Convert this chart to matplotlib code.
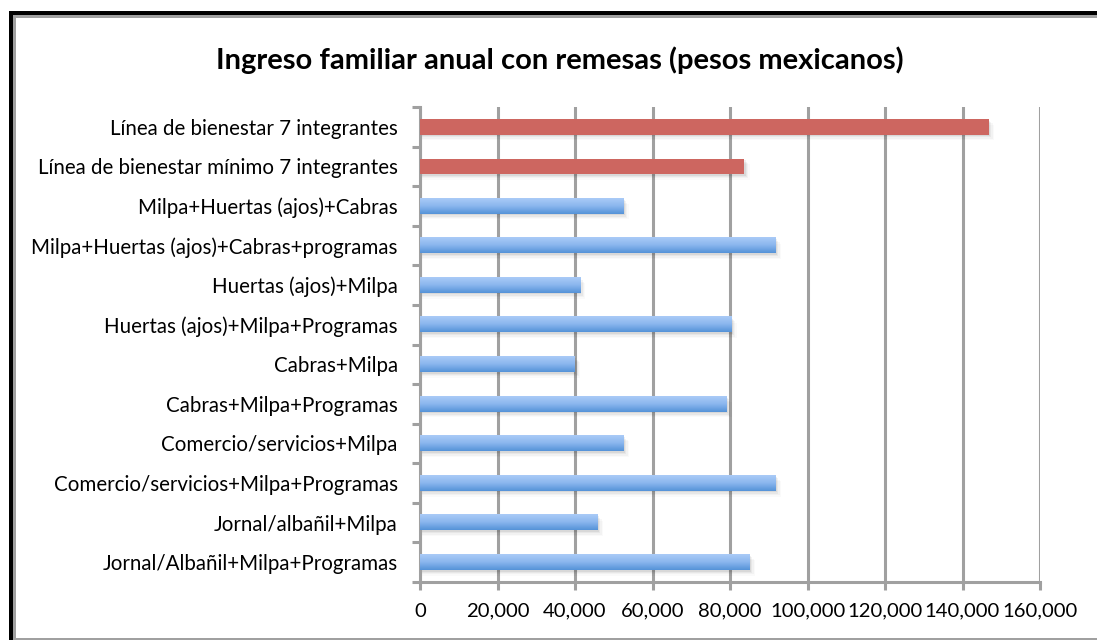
import matplotlib
matplotlib.use("Agg")
import matplotlib.pyplot as plt
import numpy as np
from matplotlib.patches import Rectangle
from matplotlib.colors import LinearSegmentedColormap

categories = [
    "Línea de bienestar 7 integrantes",
    "Línea de bienestar mínimo 7 integrantes",
    "Milpa+Huertas (ajos)+Cabras",
    "Milpa+Huertas (ajos)+Cabras+programas",
    "Huertas (ajos)+Milpa",
    "Huertas (ajos)+Milpa+Programas",
    "Cabras+Milpa",
    "Cabras+Milpa+Programas",
    "Comercio/servicios+Milpa",
    "Comercio/servicios+Milpa+Programas",
    "Jornal/albañil+Milpa",
    "Jornal/Albañil+Milpa+Programas",
]
values = [146800, 83700, 52500, 91800, 41300, 80400, 40000, 79100, 52600, 91800, 45900, 85100]
is_reference_line = [True, True, False, False, False, False, False, False, False, False, False, False]
xticks = [0, 20000, 40000, 60000, 80000, 100000, 120000, 140000, 160000]
title = "Ingreso familiar anual con remesas (pesos mexicanos)"

plt.rcParams['font.family'] = ['Lato', 'DejaVu Sans']

W, H = 1097, 640
fig = plt.figure(figsize=(W / 100, H / 100), dpi=100)
fig.patch.set_facecolor("white")

# outer frame (black + gray inner line)
fig.patches.append(Rectangle((9 / W, 0), 4 / W, 1 - 11 / H, transform=fig.transFigure,
                             facecolor="black", edgecolor="none", zorder=5))
fig.patches.append(Rectangle((9 / W, 1 - 15 / H), 1, 4 / H, transform=fig.transFigure,
                             facecolor="black", edgecolor="none", zorder=5))
fig.patches.append(Rectangle((13 / W, 0), 2.5 / W, 1 - 15 / H, transform=fig.transFigure,
                             facecolor="#a0a0a0", edgecolor="none", zorder=5))
fig.patches.append(Rectangle((13 / W, 1 - 17.5 / H), 1, 2.5 / H, transform=fig.transFigure,
                             facecolor="#a0a0a0", edgecolor="none", zorder=5))
fig.patches.append(Rectangle((13 / W, 1 - 640 / H), 1, 2.5 / H, transform=fig.transFigure,
                             facecolor="#a0a0a0", edgecolor="none", zorder=5))

ax = fig.add_axes([420 / W, 1 - 582 / H, 620 / W, 475 / H])
n = len(categories)
ax.set_xlim(0, 160000)
ax.set_ylim(n - 0.5, -0.5)

ax.set_xticks(xticks)
ax.set_xticklabels([f"{v:,}" for v in xticks])
ax.set_yticks(np.arange(n))
ax.set_yticklabels(categories)
ax.set_yticks(np.arange(n + 1) - 0.5, minor=True)

gray = "#a0a0a0"
ax.grid(axis="x", color=gray, linewidth=2.2, zorder=0)
ax.set_axisbelow(True)
for s in ["top", "right"]:
    ax.spines[s].set_visible(False)
for s in ["left", "bottom"]:
    ax.spines[s].set_color(gray)
    ax.spines[s].set_linewidth(2.2)

ax.tick_params(axis="y", which="major", length=0, pad=16, labelsize=14.8, colors="black")
ax.tick_params(axis="y", which="minor", length=6, width=2.2, color=gray)
ax.tick_params(axis="x", length=6, width=2.2, color=gray, pad=9, labelsize=14.6, labelcolor="black")

blue_cmap = LinearSegmentedColormap.from_list("b", ["#aacbf7", "#8ab6ee", "#5593d8"])
bar_h = 0.39
grad = np.linspace(0, 1, 64).reshape(-1, 1)
for i, (v, ref) in enumerate(zip(values, is_reference_line)):
    # soft shadow
    for k, a in enumerate([0.06, 0.045, 0.03, 0.02]):
        off = 0.04 + 0.035 * k
        ax.add_patch(Rectangle((0, i - bar_h / 2 + off), v + 300 + 350 * k, bar_h,
                               facecolor="black", alpha=a, edgecolor="none", zorder=2))
    if ref:
        ax.barh(i, v, height=bar_h, color="#cd6660", zorder=3)
    else:
        ax.imshow(grad, aspect="auto", cmap=blue_cmap,
                  extent=(0, v, i + bar_h / 2, i - bar_h / 2), zorder=3, interpolation="bilinear")
ax.set_xlim(0, 160000)
ax.set_ylim(n - 0.5, -0.5)

fig.text(560 / W, 1 - 60 / H, title, ha="center", va="center", fontsize=21, fontweight="bold")

fig.savefig("out.png", dpi=100, facecolor="white")
